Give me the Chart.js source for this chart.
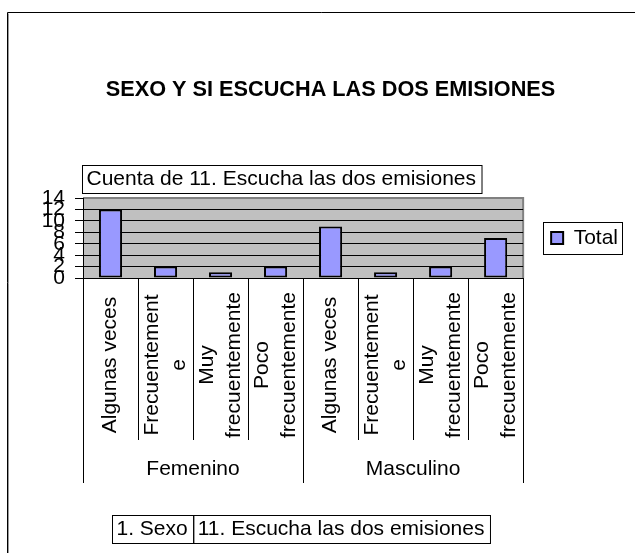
<!DOCTYPE html>
<html>
<head>
<meta charset="utf-8">
<script src="https://cdn.jsdelivr.net/npm/chart.js@4.4.1/dist/chart.umd.min.js"></script>
<style>
html,body{margin:0;padding:0;background:#fff;}
canvas{display:block;}
</style>
</head>
<body>
<canvas id="chart" width="635" height="553"></canvas>
<script>
// ---- data ----
const chartTitle = 'SEXO Y SI ESCUCHA LAS DOS EMISIONES';
const valueFieldLabel = 'Cuenta de 11. Escucha las dos emisiones';
const rowFieldLabels = ['1. Sexo', '11. Escucha las dos emisiones'];
const seriesName = 'Total';
const groups = ['Femenino', 'Masculino'];
const responses = [['Algunas veces'], ['Frecuentement', 'e'], ['Muy', 'frecuentemente'], ['Poco', 'frecuentemente']];
const femeninoCounts = [12, 2, 1, 2];
const masculinoCounts = [9, 1, 2, 7];
const yTickValues = [0, 2, 4, 6, 8, 10, 12, 14];

const categoryLabels = groups.flatMap(() => responses);
const values = femeninoCounts.concat(masculinoCounts);

const FONT = "'Liberation Sans', Arial, sans-serif";
Chart.defaults.font.family = FONT;
Chart.defaults.font.size = 21;
Chart.defaults.color = '#000';

const decor = {
  id: 'decor',
  beforeDraw(chart) {
    const {ctx, chartArea: a} = chart;
    ctx.save();
    ctx.fillStyle = '#C0C0C0';
    ctx.fillRect(a.left, a.top, a.right - a.left, a.bottom - a.top);
    ctx.strokeStyle = '#808080';
    ctx.lineWidth = 2;
    ctx.beginPath();
    ctx.moveTo(a.left, a.top);
    ctx.lineTo(a.right, a.top);
    ctx.lineTo(a.right, a.bottom);
    ctx.stroke();
    ctx.restore();
  },
  afterDraw(chart) {
    const {ctx, chartArea: a} = chart;
    ctx.save();
    // outer chart border
    ctx.lineWidth = 1;
    ctx.strokeStyle = '#000';
    ctx.beginPath();
    ctx.moveTo(7.5, chart.height);
    ctx.lineTo(7.5, 12.5);
    ctx.lineTo(chart.width, 12.5);
    ctx.stroke();
    ctx.strokeStyle = '#999';
    ctx.beginPath();
    ctx.moveTo(8.5, chart.height);
    ctx.lineTo(8.5, 13.5);
    ctx.stroke();

    ctx.font = '21px ' + FONT;
    ctx.fillStyle = '#000';
    ctx.strokeStyle = '#000';

    // value field box
    ctx.textAlign = 'left';
    ctx.textBaseline = 'middle';
    const tw = ctx.measureText(valueFieldLabel).width;
    const bx = Math.round(a.left) - 0.5;
    ctx.strokeRect(bx, Math.round(a.top) - 32.5, tw + 10, 28);
    ctx.fillText(valueFieldLabel, bx + 4, Math.round(a.top) - 18.5);

    // rotated category labels
    const xs = chart.scales.x;
    ctx.textAlign = 'center';
    const cy = xs.top + 87;
    categoryLabels.forEach((lines, i) => {
      const cx = xs.getPixelForValue(i);
      ctx.save();
      ctx.translate(cx, cy);
      ctx.rotate(-Math.PI / 2);
      lines.forEach((t, j) => ctx.fillText(t, 0, (j - (lines.length - 1) / 2) * 27));
      ctx.restore();
    });

    // group labels
    const x2 = chart.scales.x2;
    groups.forEach((g, i) => ctx.fillText(g, x2.getPixelForValue(i), x2.top + 29));

    // row field boxes
    ctx.textAlign = 'left';
    let fx = Math.round(a.left) + 29.5;
    const fy = chart.height - 37.5;
    rowFieldLabels.forEach(t => {
      const w = ctx.measureText(t).width + 10;
      ctx.strokeRect(fx, fy, w, 28);
      ctx.fillText(t, fx + 4, fy + 14);
      fx += w;
    });

    // legend border
    const lg = chart.legend;
    const sqX = lg.left + lg.options.labels.padding;
    const lcy = (lg.top + lg.bottom) / 2;
    ctx.strokeRect(Math.round(sqX - 8) + 0.5, Math.round(lcy - 16) + 0.5, 79, 32);
    ctx.restore();
  }
};

new Chart(document.getElementById('chart'), {
  type: 'bar',
  data: {
    labels: categoryLabels,
    datasets: [{
      label: seriesName,
      data: values,
      backgroundColor: '#9999FF',
      borderColor: '#000',
      borderWidth: 2,
      borderSkipped: false,
      barPercentage: 0.42,
      categoryPercentage: 1.0,
      xAxisID: 'x',
      yAxisID: 'y'
    }]
  },
  options: {
    responsive: false,
    animation: false,
    events: [],
    layout: { padding: { left: 33, right: 7, top: 0, bottom: 70 } },
    plugins: {
      title: {
        display: true,
        text: chartTitle,
        color: '#000',
        font: { size: 21.7, weight: 'bold', family: FONT },
        padding: { top: 77, bottom: 95 }
      },
      legend: {
        position: 'right',
        fullSize: false,
        labels: { font: { size: 21, family: FONT }, color: '#000', boxWidth: 12, boxHeight: 12, padding: 28 }
      },
      tooltip: { enabled: false }
    },
    scales: {
      x: {
        type: 'category',
        position: 'bottom',
        weight: 0,
        offset: true,
        grid: { offset: true, drawOnChartArea: false, tickLength: 162, color: '#000', lineWidth: 1 },
        border: { display: true, color: '#000', width: 1 },
        ticks: { display: false }
      },
      x2: {
        type: 'category',
        position: 'bottom',
        weight: 1,
        labels: groups,
        offset: true,
        grid: { offset: true, drawOnChartArea: false, tickLength: 43, color: '#000', lineWidth: 1 },
        border: { display: false },
        ticks: { display: false }
      },
      y: {
        position: 'left',
        min: 0,
        max: 14,
        afterBuildTicks: s => { s.ticks = yTickValues.map(v => ({ value: v })); },
        afterFit: s => { s.width = 50; },
        grid: {
          color: c => (c.tick && c.tick.value === 14 ? '#808080' : '#000'),
          tickColor: '#000',
          tickLength: 8,
          lineWidth: 1
        },
        border: { display: true, color: '#000', width: 1 },
        ticks: { autoSkip: false, padding: 10, color: '#000', font: { size: 21, family: FONT } }
      }
    }
  },
  plugins: [decor]
});
</script>
</body>
</html>
